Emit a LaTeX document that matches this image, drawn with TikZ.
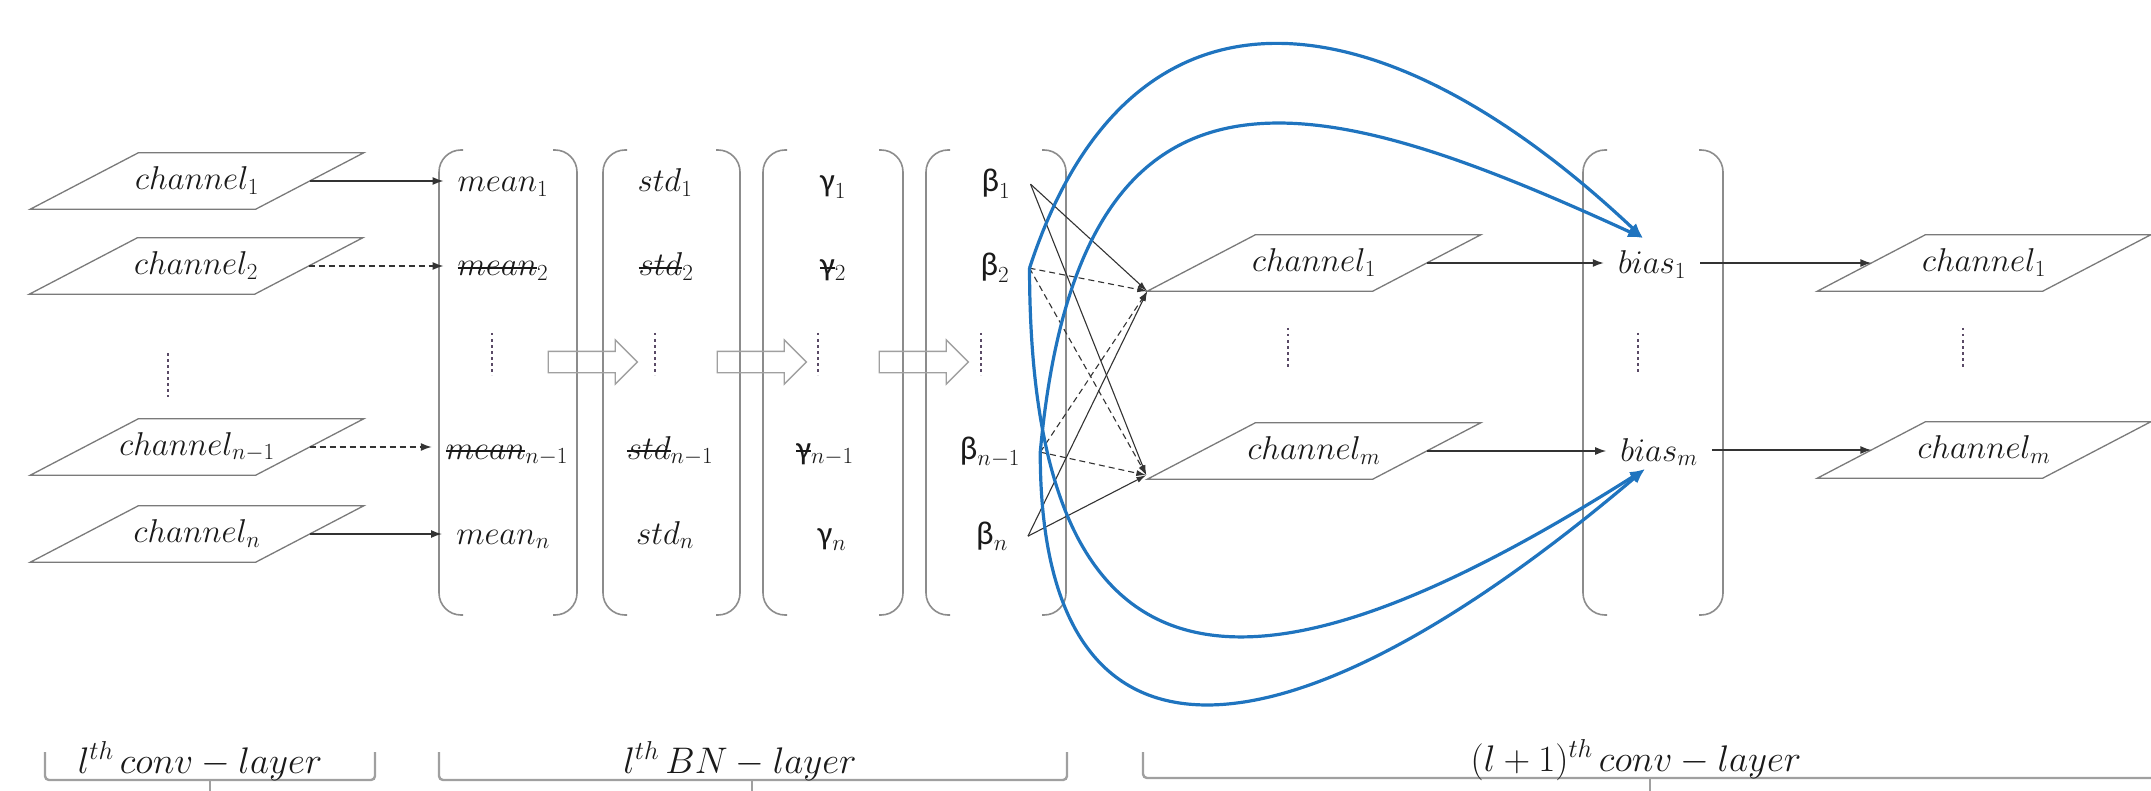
\RequirePackage{fix-cm}
\documentclass[tikz,border=0pt]{standalone}
\usepackage{fontspec}
\newfontfamily\grk{Carlito}
\newcommand{\mystrk}[1]{\sbox0{#1}\rlap{\rule[0.2em]{\wd0}{2pt}}\usebox0}
\usetikzlibrary{arrows.meta,shapes.arrows}
\definecolor{bgray}{HTML}{8C8C8C}
\definecolor{lgray}{HTML}{7A7A7A}
\definecolor{cgray}{HTML}{333333}
\definecolor{myblue}{HTML}{1F74BF}
\definecolor{dotc}{HTML}{5A4A66}
\definecolor{brgray}{HTML}{A0A0A0}
\definecolor{txt}{HTML}{1A1A1A}
\begin{document}
\begin{tikzpicture}[x=1pt,y=-1pt,
  every node/.style={font=\fontsize{33}{40}\selectfont, text=txt},
  chan/.style={minimum width=225pt,minimum height=56pt,inner sep=0pt},
  paral/.style={draw=lgray,line width=1.3pt},
  mcol/.style={inner xsep=14pt,inner ysep=3pt,anchor=base},
  bcol/.style={inner xsep=20pt,inner ysep=3pt,anchor=base},
  brk/.style={draw=bgray,line width=1.6pt,rounded corners=22pt},
  conn/.style={draw=cgray,line width=1.4pt,-{Latex[length=11pt,width=8pt]}},
  dconn/.style={conn,dash pattern=on 6pt off 4pt},
  bline/.style={draw=cgray,line width=1.1pt,-{Latex[length=10pt,width=6pt]}},
  dbline/.style={bline,dash pattern=on 6pt off 4pt},
  bluec/.style={draw=myblue,line width=3.2pt,-{Latex[length=15pt,width=12pt]}},
  vd/.style={draw=dotc,line width=2.2pt,dash pattern=on 2.5pt off 3.5pt},
  blockarr/.style={single arrow,draw=brgray,line width=1.3pt,minimum height=89pt,inner sep=10pt,single arrow head extend=11.5pt},
  bbrace/.style={draw=brgray,line width=2.4pt,rounded corners=4pt},
  lab/.style={font=\fontsize{37}{44}\selectfont,anchor=base}]
\useasboundingbox (0,0) rectangle (2151,791);

% brackets
\foreach \xl/\xr in {439/577,603/740,763/903,926/1066,1583/1723}{
  \draw[brk] ({\xl+24},150) -- (\xl,150) -- (\xl,615) -- ({\xl+24},615);
  \draw[brk] ({\xr-24},150) -- (\xr,150) -- (\xr,615) -- ({\xr-24},615);
}

% hollow block arrows
\node[blockarr] (ba1) at (587.5,362) {};
\node[blockarr] (ba2) at (756.5,362) {};
\node[blockarr] (ba3) at (918.5,362) {};

% channels
\node[chan] (lc1) at (197,181) {$channel_1$};
\node[chan] (lc2) at (196,266) {$channel_2$};
\node[chan] (lc3) at (197,447) {$channel_{n-1}$};
\node[chan] (lc4) at (197,534) {$channel_n$};
\node[chan] (mc1) at (1314,263) {$channel_1$};
\node[chan] (mc2) at (1314,451) {$channel_m$};
\node[chan] (rc1) at (1984,263) {$channel_1$};
\node[chan] (rc2) at (1984,450) {$channel_m$};
\foreach \n in {lc1,lc2,lc3,lc4,mc1,mc2,rc1,rc2}
  \draw[paral] ([xshift=-54pt]\n.south west) -- ([xshift=54pt]\n.north west)
     -- ([xshift=54pt]\n.north east) -- ([xshift=-54pt]\n.south east) -- cycle;

% column entries
\node[mcol] (m1) at (503,192) {$mean_1$};
\node[mcol] (m2) at (503,276) {\mystrk{$mean$}$_2$};
\node[mcol] (m3) at (507,459) {\mystrk{$mean$}$_{n-1}$};
\node[mcol] (m4) at (503,544) {$mean_n$};
\node[mcol] (s1) at (665,192) {$std_1$};
\node[mcol] (s2) at (666,276) {\mystrk{$std$}$_2$};
\node[mcol] (s3) at (670,459) {\mystrk{$std$}$_{n-1}$};
\node[mcol] (s4) at (665,544) {$std_n$};
\node[mcol] (g1) at (833,192) {$\mbox{\grk γ}_1$};
\node[mcol] (g2) at (833,276) {\mystrk{\grk γ}$_2$};
\node[mcol] (g3) at (825,459) {\mystrk{\grk γ}$_{n-1}$};
\node[mcol] (g4) at (832,544) {$\mbox{\grk γ}_n$};
\node[bcol] (b1) at (996,192) {$\mbox{\grk β}_1$};
\node[bcol] (b2) at (995,276) {$\mbox{\grk β}_2$};
\node[bcol] (b3) at (990,459) {$\mbox{\grk β}_{n-1}$};
\node[bcol] (b4) at (992,544) {$\mbox{\grk β}_n$};
\node[mcol] (bi1) at (1652,274) {$bias_1$};
\node[mcol] (bi2) at (1659,461) {$bias_m$};

% vertical dots
\draw[vd] (168,353) -- (168,397);
\draw[vd] (492,333) -- (492,375);
\draw[vd] (655,333) -- (655,375);
\draw[vd] (818,333) -- (818,375);
\draw[vd] (981,333) -- (981,375);
\draw[vd] (1288,328) -- (1288,368);
\draw[vd] (1638,333) -- (1638,373);
\draw[vd] (1963,328) -- (1963,368);

% horizontal connectors
\draw[conn] (lc1.east) -- (lc1.east -| m1.west);
\draw[dconn] (lc2.east) -- (lc2.east -| m2.west);
\draw[dconn] (lc3.east) -- (lc3.east -| m3.west);
\draw[conn] (lc4.east) -- (lc4.east -| m4.west);
\draw[conn] (mc1.east) -- (mc1.east -| bi1.west);
\draw[conn] (mc2.east) -- (mc2.east -| bi2.west);
\draw[conn] (bi1.east |- rc1.west) -- (rc1.west);
\draw[conn] (bi2.east |- rc2.west) -- (rc2.west);

% beta -> next channels
\coordinate (j1) at ([xshift=-54pt]mc1.south west);
\coordinate (j2) at ([xshift=-55pt,yshift=4pt]mc2.south west);
\foreach \s/\t in {b1/j1,b1/j2,b4/j1,b4/j2} \draw[bline] (\s.east) -- (\t);
\foreach \s/\t in {b2/j1,b2/j2,b3/j1,b3/j2} \draw[dbline] (\s.east) -- (\t);

% blue curves
\coordinate (t1) at (1643,238);
\coordinate (t2) at (1645,469);
\draw[bluec] (b2.east) .. controls (1130,-40) and (1380,-10) .. (t1);
\draw[bluec] (b3.east) .. controls (1080,20) and (1320,90) .. (t1);
\draw[bluec] (b2.east) .. controls (1030,740) and (1280,700) .. (t2);
\draw[bluec] (b3.east) .. controls (1040,800) and (1290,770) .. (t2);

% bottom braces
\draw[bbrace] (45,752) -- (45,780) -- (375,780) -- (375,752);
\draw[bbrace] (210,780) -- (210,795);
\draw[bbrace] (439,752) -- (439,780) -- (1067,780) -- (1067,752);
\draw[bbrace] (752,780) -- (752,795);
\draw[bbrace] (1143,752) -- (1143,778) -- (2170,778);
\draw[bbrace] (1650,778) -- (1650,795);
\node[lab] (L1) at (200,773) {$l^{th}\,conv-layer$};
\node[lab] (L2) at (740,773) {$l^{th}\,BN-layer$};
\node[lab] (L3) at (1636,771) {$(l+1)^{th}\,conv-layer$};
\end{tikzpicture}
\end{document}
